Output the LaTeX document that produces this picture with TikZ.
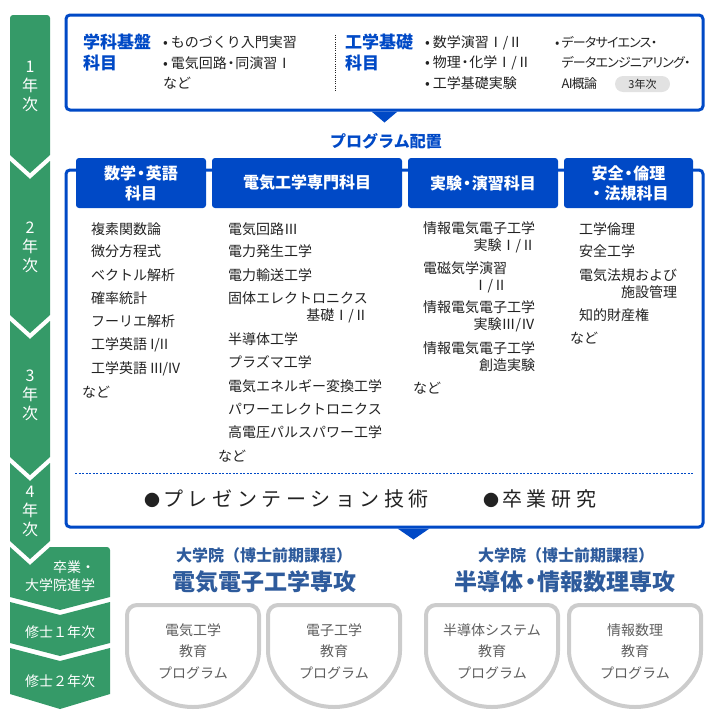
\documentclass[tikz,border=0pt]{standalone}
\usepackage{fontspec}
\setmainfont{Noto Sans CJK JP}
\usepackage{xcolor}
\usetikzlibrary{positioning}

\definecolor{mainblue}{HTML}{0049C6}
\definecolor{yeargreen}{HTML}{359A68}
\definecolor{gradblue}{HTML}{2E5B9C}
\definecolor{bodytext}{HTML}{222222}
\definecolor{progline}{HTML}{CCCCCC}
\definecolor{progtext}{HTML}{5E5E5E}
\definecolor{pillgray}{HTML}{E2E2E2}

% narrow middle dot
\newcommand{\nkg}{\kern-0.2em・\kern-0.2em}

\begin{document}
\begin{tikzpicture}[
		x=1pt, y=-1pt,
		yearseg/.style={fill=yeargreen},
		yeartext/.style={text=white, align=center, inner sep=0pt, font=\fontsize{16}{19}\selectfont},
		stagetext/.style={text=white, align=right, inner sep=0pt, font=\fontsize{14}{18}\selectfont},
		frame/.style={draw=mainblue, line width=3pt, rounded corners=4pt, inner sep=0pt},
		tab/.style={fill=mainblue, rounded corners=3pt, text=white, align=center, inner sep=0pt, minimum height=50pt, font=\bfseries\fontsize{16}{20}\selectfont},
		subjhead/.style={anchor=west, align=left, inner sep=0pt, text=mainblue, font=\bfseries\fontsize{17}{21}\selectfont},
		toplist/.style={anchor=west, align=left, inner sep=0pt, text=bodytext, font=\fontsize{14}{20.5}\selectfont},
		item/.style={anchor=west, align=right, inner sep=0pt, text=bodytext, font=\fontsize{14}{17}\selectfont},
		bigitem/.style={anchor=west, inner sep=0pt, text=bodytext, font=\fontsize{20}{24}\selectfont\addfontfeature{LetterSpace=23}},
		pill/.style={fill=pillgray, rounded corners=8pt, minimum width=55pt, minimum height=16pt, inner sep=0pt, text=bodytext, font=\fontsize{11}{13}\selectfont},
		gradsub/.style={inner sep=0pt, text=gradblue, font=\bfseries\fontsize{16}{19}\selectfont},
		gradmain/.style={inner sep=0pt, text=gradblue, font=\bfseries\fontsize{23}{27}\selectfont},
		progframe/.style={draw=progline, line width=4pt, rounded corners=10pt},
		progtext/.style={align=center, inner sep=0pt, text=progtext, font=\fontsize{14}{21.5}\selectfont},
		sepline/.style={draw=bodytext, line width=0.8pt, dash pattern=on 1pt off 1.2pt}
		]
		
		\useasboundingbox (0,0) rectangle (720,720);
		
		% ==========================================
		% YEAR BAR (left)
		% ==========================================
		\fill[yearseg] (30,173) -- (10,155) [rounded corners=3pt] -- (10,15) -- (50,15) [sharp corners] -- (50,155) -- cycle;
		\fill[yearseg] (10,161) -- (30,179) -- (50,161) -- (50,315) -- (30,333) -- (10,315) -- cycle;
		\fill[yearseg] (10,321) -- (30,339) -- (50,321) -- (50,457) -- (30,475) -- (10,457) -- cycle;
		\fill[yearseg] (10,463) -- (30,481) -- (50,463) -- (50,541) -- (30,559) -- (10,541) -- cycle;
		\fill[yearseg] (10,547) -- (30,565) -- (50,547) [rounded corners=3pt] -- (110,547) [sharp corners] -- (110,597) -- (60,610) -- (10,597) -- cycle;
		\fill[yearseg] (10,602) -- (60,615) -- (110,602) -- (110,643) -- (60,656) -- (10,643) -- cycle;
		\fill[yearseg] (10,648) -- (60,661) -- (110,648) -- (110,694) -- (60,709) -- (10,694) -- cycle;
		
		\node[yeartext] (year1) at (30,86) {1\\年\\次};
		\node[yeartext] (year2) at (30,247) {2\\年\\次};
		\node[yeartext] (year3) at (30,395) {3\\年\\次};
		\node[yeartext] (year4) at (30,511) {4\\年\\次};
		\node[stagetext] (gradstage) at (60,576) {卒業・\\大学院進学};
		\node[stagetext] (master1) at (60,632) {修士１年次};
		\node[stagetext] (master2) at (60,681) {修士２年次};
		
		% ==========================================
		% FIRST YEAR BOX
		% ==========================================
		\node[frame, minimum width=637pt, minimum height=95pt] (firstyear) at (384.5,62.5) {};
		\fill[mainblue] ([xshift=-13pt]firstyear.south) -- ([xshift=13pt]firstyear.south) -- ([yshift=-11pt]firstyear.south) -- cycle;
		
		\node[subjhead] (basehead) at (83,52.5) {学科基盤\\科目};
		\node[toplist] (baselist) at (163,62.5) {•\hspace{3pt}ものづくり入門実習\\•\hspace{3pt}電気回路\nkg 同演習Ⅰ\\など};
		\draw[sepline] (335,35) -- (335,92);
		\node[subjhead] (enghead) at (345,52.5) {工学基礎\\科目};
		\node[toplist] (englist) at (425,62.5) {•\hspace{3pt}数学演習Ⅰ/Ⅱ\\•\hspace{3pt}物理\nkg 化学Ⅰ/Ⅱ\\•\hspace{3pt}工学基礎実験};
		\node[toplist, font=\fontsize{13}{20.5}\selectfont\addfontfeature{RawFeature=+palt, LetterSpace=-6}] (dslist) at (555,62.5) {•\hspace{2pt}データサイエンス・\\\phantom{•\hspace{2pt}}データエンジニアリング・\\\phantom{•\hspace{2pt}}AI概論};
		\node[pill] (third) at (642.5,84) {3年次};
		
		\node[text=mainblue, inner sep=0pt, font=\bfseries\fontsize{16}{19}\selectfont] (placement) at (386,141) {プログラム配置};
		
		% ==========================================
		% PROGRAM BOX (2nd - 4th year)
		% ==========================================
		\node[frame, minimum width=637pt, minimum height=357pt] (program) at (384.5,348.5) {};
		\fill[mainblue] ([xshift=13pt]program.south) -- ([xshift=45pt]program.south) -- ([xshift=29pt, yshift=-11pt]program.south) -- cycle;
		
		\node[tab, minimum width=130pt] (tabmath) at (141,183) {数学\nkg 英語\\科目};
		\node[tab, minimum width=190pt] (tabelec) at (307,183) {電気工学専門科目};
		\node[tab, minimum width=150pt] (tablab) at (483,183) {実験\nkg 演習科目};
		\node[tab, minimum width=129pt] (tabsafe) at (628.5,183) {安全\nkg 倫理\\・法規科目};
		
		% math / english
		\node[item] (math1) at (91,229) {複素関数論};
		\node[item] (math2) at (91,251.5) {微分方程式};
		\node[item] (math3) at (91,275) {ベクトル解析};
		\node[item] (math4) at (91,298) {確率統計};
		\node[item] (math5) at (91,321.5) {フーリエ解析};
		\node[item] (math6) at (91,345) {工学英語 I/II};
		\node[item] (math7) at (91,369) {工学英語 III/IV};
		\node[item] (math8) at (82,392) {など};
		
		% electrical engineering
		\node[item] (elec1) at (228,229) {電気回路Ⅲ};
		\node[item] (elec2) at (228,251.5) {電力発生工学};
		\node[item] (elec3) at (228,275) {電力輸送工学};
		\node[item] (elec4) at (228,307) {固体エレクトロニクス\\基礎Ⅰ/Ⅱ};
		\node[item] (elec5) at (228,339) {半導体工学};
		\node[item] (elec6) at (228,362.5) {プラズマ工学};
		\node[item] (elec7) at (228,386) {電気エネルギー変換工学};
		\node[item] (elec8) at (228,409) {パワーエレクトロニクス};
		\node[item] (elec9) at (228,432.5) {高電圧パルスパワー工学};
		\node[item] (elec10) at (218,456) {など};
		
		% experiments / exercises
		\node[item] (lab1) at (423,237.5) {情報電気電子工学\\実験Ⅰ/Ⅱ};
		\node[item] (lab2) at (423,277) {電磁気学演習\\Ⅰ/Ⅱ};
		\node[item] (lab3) at (423,316.5) {情報電気電子工学\\実験Ⅲ/Ⅳ};
		\node[item] (lab4) at (423,356.5) {情報電気電子工学\\創造実験};
		\node[item] (lab5) at (413,388) {など};
		
		% safety / ethics / law
		\node[item] (safe1) at (579,229) {工学倫理};
		\node[item] (safe2) at (579,251.5) {安全工学};
		\node[item] (safe3) at (579,283.5) {電気法規および\\施設管理};
		\node[item] (safe4) at (579,315) {知的財産権};
		\node[item] (safe5) at (570,338) {など};
		
		\draw[mainblue, line width=1pt, dash pattern=on 2pt off 1.5pt] (75,473) -- (693,473);
		\node[bigitem] (present) at (144,499) {{\fontsize{16}{16}\selectfont●}\hspace{3pt}プレゼンテーション技術};
		\node[bigitem] (thesis) at (483,499) {{\fontsize{16}{16}\selectfont●}\hspace{3pt}卒業研究};
		
		% ==========================================
		% GRADUATE SCHOOL
		% ==========================================
		\node[gradsub] (gsubleft) at (264,555) {大学院（博士前期課程）};
		\node[gradmain] (gmainleft) at (264,582) {電気電子工学専攻};
		\node[gradsub] (gsubright) at (566,555) {大学院（博士前期課程）};
		\node[gradmain] (gmainright) at (565,582) {半導体\nkg 情報数理専攻};
		
		\foreach \cx/\nm/\ttl in {193/eeprog/電気工学, 334/ecprog/電子工学, 492/scprog/半導体システム, 635/improg/情報数理} {
			\draw[progframe] (\cx+66,641) arc[start angle=0, end angle=-180, radius=66pt] -- (\cx-66,605) -- (\cx+66,605) -- cycle;
			\node[progtext] (\nm) at (\cx,651.5) {\ttl\\教育\\プログラム};
		}
		
	\end{tikzpicture}
\end{document}
